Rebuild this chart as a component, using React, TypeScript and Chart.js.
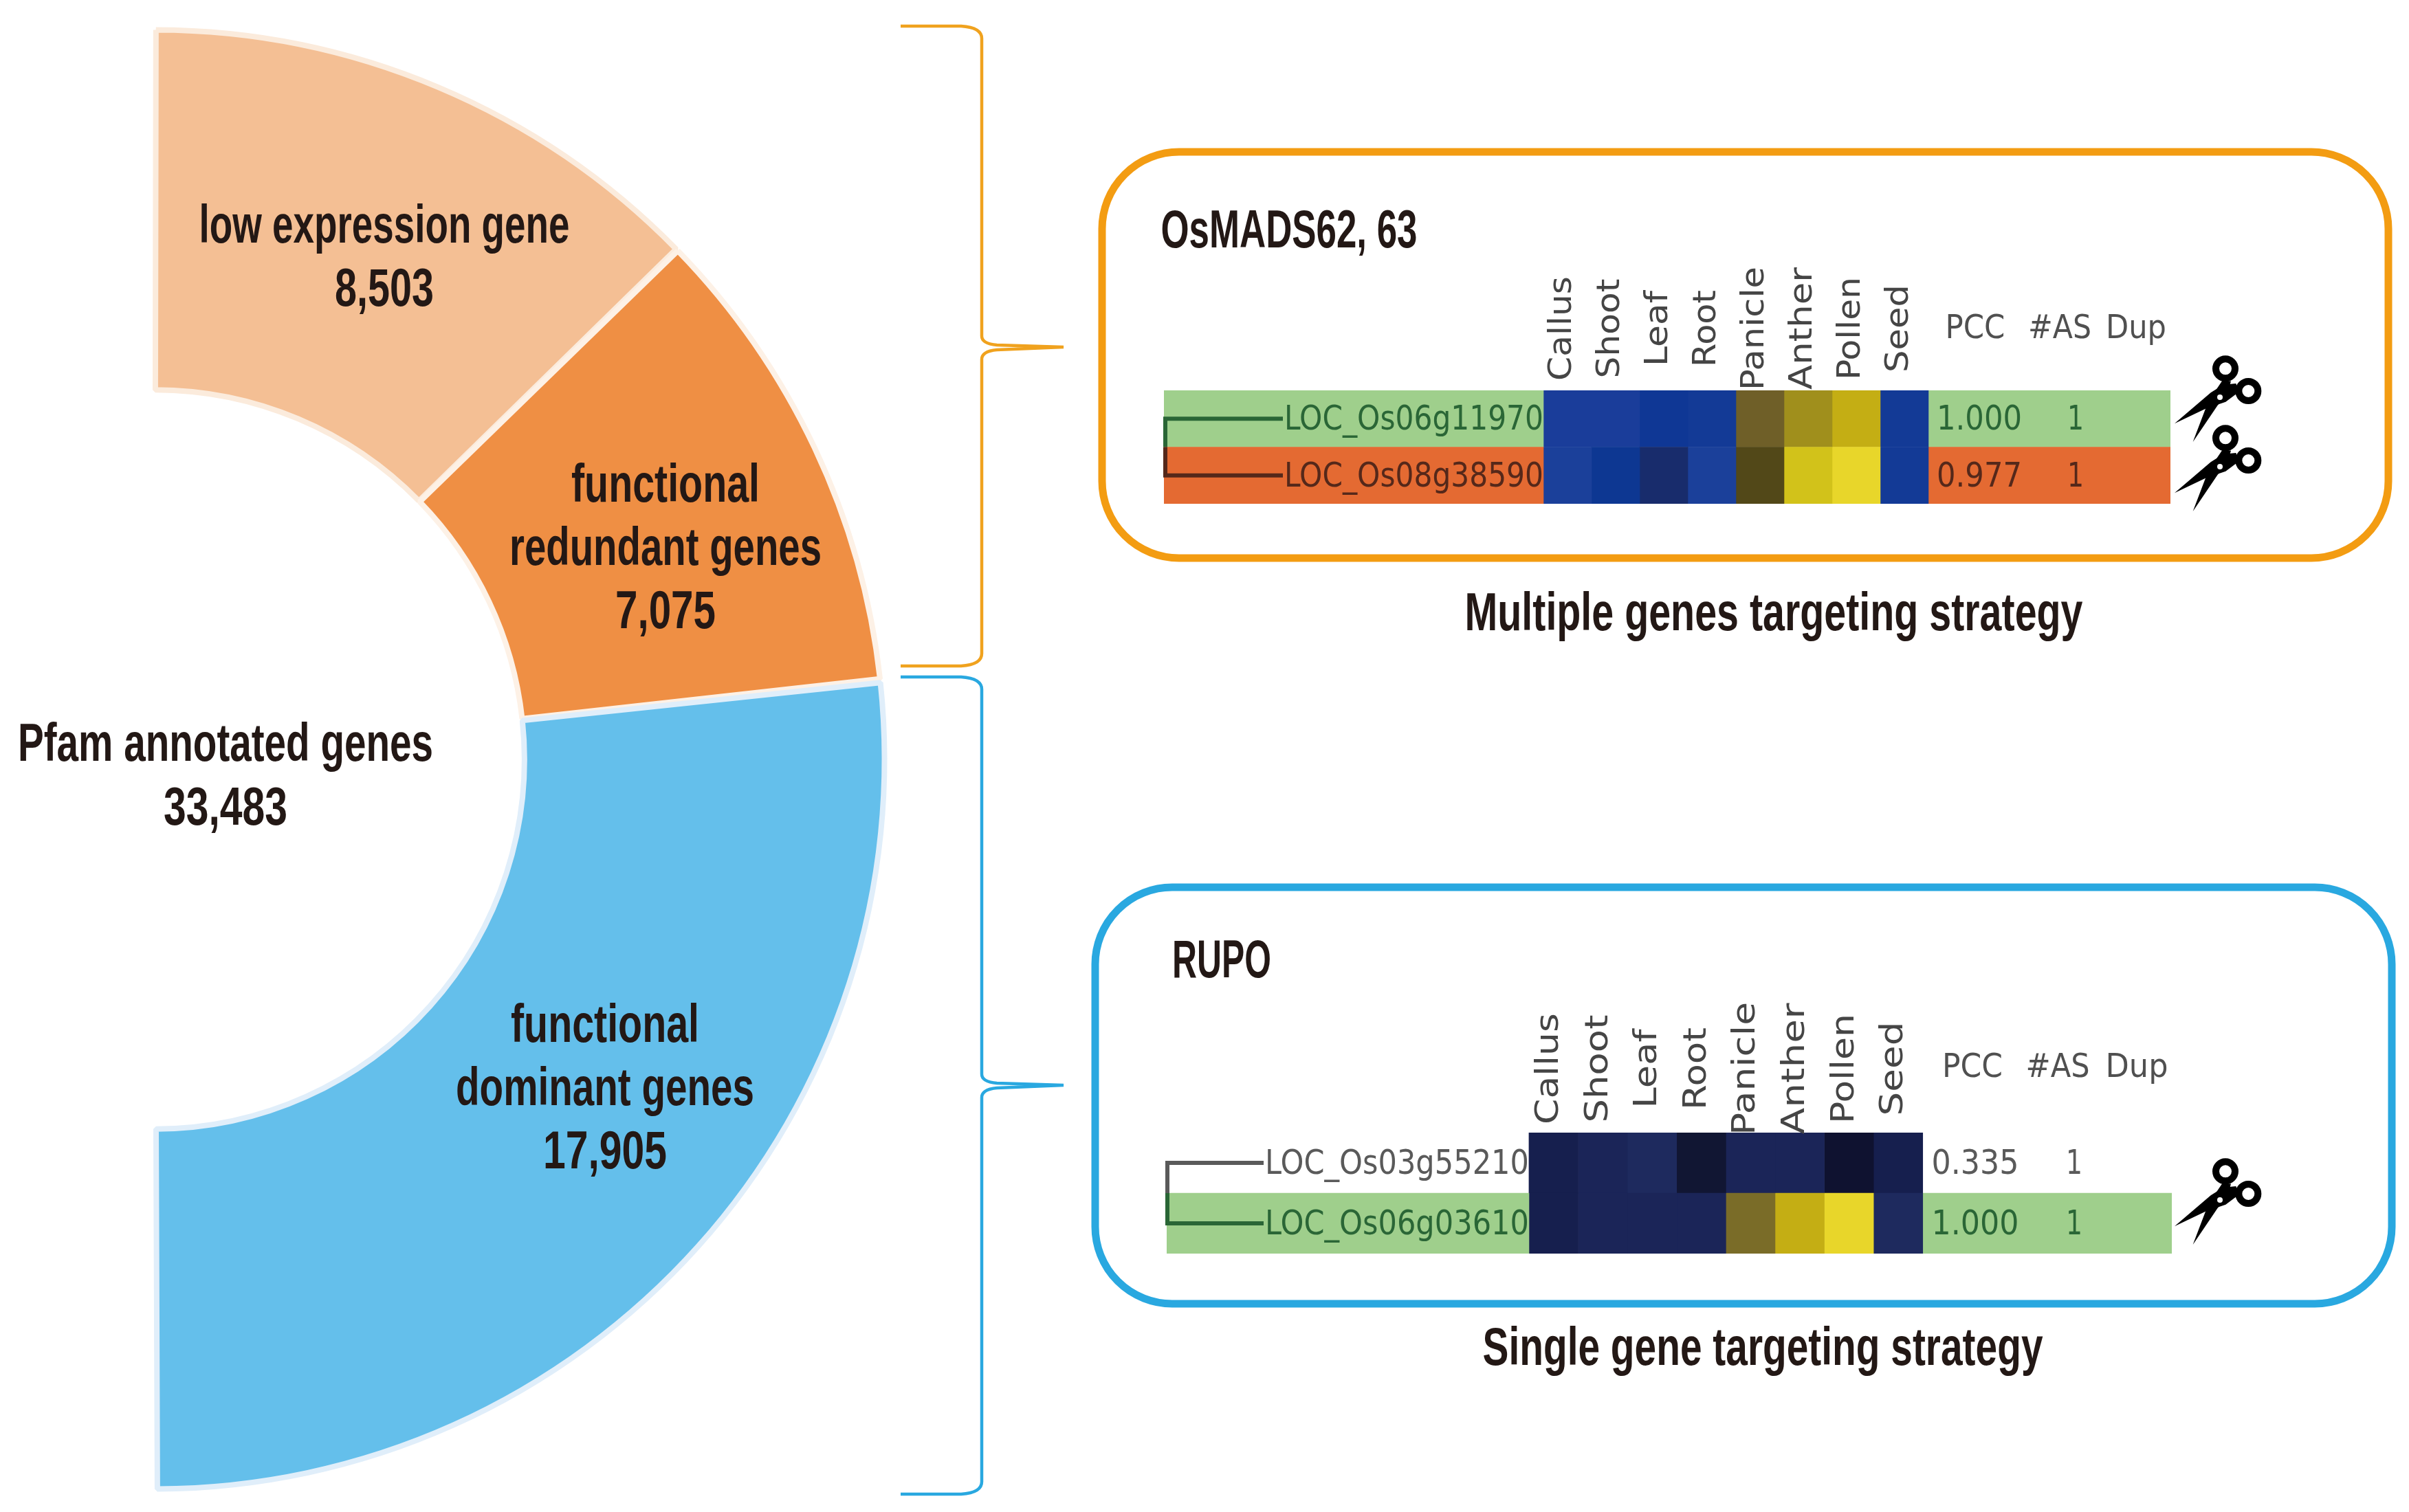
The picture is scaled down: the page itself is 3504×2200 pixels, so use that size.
import React, { useEffect, useRef } from "react";
import { Chart, registerables } from "chart.js";

Chart.register(...registerables);

// ---------- data ----------
const sliceNames = ["low expression gene", "functional redundant genes", "functional dominant genes"];
const sliceValues = [8503, 7075, 17905];
const tissues = ["Callus", "Shoot", "Leaf", "Root", "Panicle", "Anther", "Pollen", "Seed"];
const statHeaders = ["PCC", "#AS", "Dup"];

const multiGenes = ["LOC_Os06g11970", "LOC_Os08g38590"];
const multiExpr = [
  [-0.95, -0.95, -0.8, -0.85, 0.4, 0.65, 0.8, -0.85],
  [-1, -0.75, -0.55, -1, 0.3, 0.85, 1, -0.85],
];
const multiPcc = ["1.000", "0.977"];
const multiAs = ["1", "1"];

const singleGenes = ["LOC_Os03g55210", "LOC_Os06g03610"];
const singleExpr = [
  [-0.15, -0.25, -0.35, -0.05, -0.2, -0.22, 0, -0.1],
  [-0.15, -0.25, -0.23, -0.27, 0.48, 0.8, 1, -0.3],
];
const singlePcc = ["0.335", "1.000"];
const singleAs = ["1", "1"];

// ---------- styling ----------
const colorRamp: [number, string][] = [
  [-1, "#1b409a"], [-0.95, "#1a3d9a"], [-0.85, "#133a96"], [-0.8, "#0f3795"], [-0.75, "#0d3792"],
  [-0.55, "#182c6c"], [-0.35, "#1e2a5e"], [-0.25, "#1b2558"], [-0.15, "#161f4e"], [-0.05, "#111633"],
  [0, "#0f1230"], [0.3, "#524818"], [0.4, "#6f5f28"], [0.48, "#7a6c28"], [0.65, "#a08f1c"],
  [0.8, "#c4ae14"], [0.85, "#d2c21a"], [1, "#e8d62a"],
];
function rampColor(v: number) {
  let best = colorRamp[0];
  for (const s of colorRamp) if (Math.abs(s[0] - v) < Math.abs(best[0] - v)) best = s;
  return best[1];
}
const DARK = "#231815";
const TITLE_FONT = "bold 78px 'Liberation Sans Narrow', 'Liberation Sans'";
const GENE_FONT = "50px 'DejaVu Sans'";
const GREEN = "#9fcf8c";
const ORANGE = "#e46a32";
const GREEN_TEXT = "#2a6636";
const ORANGE_TEXT = "#55281a";
const GREY_TEXT = "#5a5a5a";
const W = 3504;
const H = 2200;

function fitText(ctx: any, text: string, cx: number, cy: number, w: number, font: string, color: string) {
  ctx.save();
  ctx.font = font;
  ctx.fillStyle = color;
  ctx.textAlign = "center";
  ctx.textBaseline = "middle";
  const m = ctx.measureText(text).width;
  ctx.translate(cx, cy);
  ctx.scale(w / m, 1);
  ctx.fillText(text, 0, 0);
  ctx.restore();
}

function poly(ctx: any, pts: number[][]) {
  ctx.beginPath();
  pts.forEach((p, i) => (i ? ctx.lineTo(p[0], p[1]) : ctx.moveTo(p[0], p[1])));
  ctx.closePath();
  ctx.fill();
}

function drawScissors(ctx: any, px: number, py: number) {
  ctx.save();
  ctx.translate(px, py);
  ctx.scale(1 / 3, 1 / 3);
  ctx.fillStyle = "#000";
  ctx.strokeStyle = "#000";
  ctx.lineWidth = 30;
  for (const c of [[24, -125], [124, -27]]) {
    ctx.beginPath();
    ctx.arc(c[0], c[1], 42, 0, Math.PI * 2);
    ctx.stroke();
  }
  poly(ctx, [[-198, 115], [-40, -20], [15, -55], [70, -60], [85, -25], [25, 20], [-63, 50]]);
  poly(ctx, [[-118, 195], [-63, 50], [-35, -5], [12, -75], [48, -70], [30, -10], [-10, 35]]);
  ctx.fillStyle = "#fff";
  ctx.beginPath();
  ctx.arc(0, 0, 12, 0, Math.PI * 2);
  ctx.fill();
  ctx.restore();
}

function drawBracket(ctx: any, color: string, top: number, mid: number, bottom: number) {
  ctx.save();
  ctx.strokeStyle = color;
  ctx.lineWidth = 4.5;
  ctx.beginPath();
  ctx.moveTo(1310, top);
  ctx.lineTo(1398, top);
  ctx.quadraticCurveTo(1428, top + 2, 1428, top + 18);
  ctx.lineTo(1428, mid - 16);
  ctx.quadraticCurveTo(1428, mid - 5, 1450, mid - 3);
  ctx.lineTo(1547, mid);
  ctx.lineTo(1450, mid + 4);
  ctx.quadraticCurveTo(1428, mid + 6, 1428, mid + 18);
  ctx.lineTo(1428, bottom - 18);
  ctx.quadraticCurveTo(1428, bottom - 2, 1398, bottom);
  ctx.lineTo(1310, bottom);
  ctx.stroke();
  ctx.restore();
}

type Panel = {
  title: string; titleX: number; titleY: number; titleW: number;
  caption: string; captionX: number; captionY: number; captionW: number;
  box: number[]; boxColor: string;
  area: number[]; labelZone: number; statZone: number;
  genes: string[]; expr: number[][]; pcc: string[]; asCount: string[];
  rowFill: string[]; rowText: string[]; treeX: number; treeEnd: number; geneW: number;
  tissueY: number; tissueShift: number; tissueLen: number[]; headerY: number; headerX: number[]; headerW: number[];
  pccX: number; pccW: number; asX: number; scissors: number[][];
};

const multiPanel: Panel = {
  title: "OsMADS62, 63", titleX: 1875, titleY: 338, titleW: 373,
  caption: "Multiple genes targeting strategy", captionX: 2580, captionY: 895, captionW: 899,
  box: [1603, 221, 1871, 591], boxColor: "#f39c12",
  area: [1693, 568, 3157, 733], labelZone: 7.886, statZone: 5.03,
  genes: multiGenes, expr: multiExpr, pcc: multiPcc, asCount: multiAs,
  rowFill: [GREEN, ORANGE], rowText: [GREEN_TEXT, ORANGE_TEXT], treeX: 1695, treeEnd: 1866, geneW: 377,
  tissueY: 478, tissueShift: -7, tissueLen: [152, 145, 110, 112, 180, 178, 150, 128],
  headerY: 480, headerX: [2873, 2996, 3107], headerW: [87, 92, 88],
  pccX: 2879, pccW: 124, asX: 3019, scissors: [[3229, 578], [3229, 679]],
};

const singlePanel: Panel = {
  title: "RUPO", titleX: 1777, titleY: 1400, titleW: 144,
  caption: "Single gene targeting strategy", captionX: 2564, captionY: 1964, captionW: 815,
  box: [1593, 1291, 1886, 606], boxColor: "#29a8e0",
  area: [1697, 1648, 3159, 1824], labelZone: 7.36, statZone: 5.06,
  genes: singleGenes, expr: singleExpr, pcc: singlePcc, asCount: singleAs,
  rowFill: ["rgba(0,0,0,0)", GREEN], rowText: [GREY_TEXT, GREEN_TEXT], treeX: 1698, treeEnd: 1838, geneW: 384,
  tissueY: 1555, tissueShift: -6, tissueLen: [162, 157, 115, 120, 194, 191, 160, 137],
  headerY: 1555, headerX: [2869, 2993, 3108], headerW: [88, 93, 91],
  pccX: 2873, pccW: 127, asX: 3017, scissors: [[3229, 1746]],
};

function drawPanelFurniture(chart: any, p: Panel) {
  const ctx = chart.ctx;
  const x = chart.scales.x;
  const y = chart.scales.y;
  ctx.save();
  // frame
  ctx.strokeStyle = p.boxColor;
  ctx.lineWidth = 11;
  ctx.beginPath();
  ctx.roundRect(p.box[0], p.box[1], p.box[2], p.box[3], 112);
  ctx.stroke();
  // titles
  fitText(ctx, p.title, p.titleX, p.titleY, p.titleW, TITLE_FONT, DARK);
  fitText(ctx, p.caption, p.captionX, p.captionY, p.captionW, TITLE_FONT, DARK);
  // tissue labels
  tissues.forEach((t, i) => {
    ctx.save();
    ctx.translate(x.getPixelForValue(p.labelZone + i + 0.5) + p.tissueShift, p.tissueY);
    ctx.rotate(-Math.PI / 2);
    fitText(ctx, t, 0, 0, p.tissueLen[i], "47px 'DejaVu Sans'", "#454545");
    ctx.restore();
  });
  statHeaders.forEach((h, i) => {
    fitText(ctx, h, p.headerX[i], p.headerY, p.headerW[i], "48px 'DejaVu Sans'", "#505050");
  });
  // rows: tree, gene name, stats
  const rowY = p.genes.map((_, r) => y.getPixelForValue(r));
  ctx.lineWidth = 6;
  ctx.strokeStyle = p.rowText[0];
  ctx.beginPath();
  ctx.moveTo(p.treeEnd, rowY[0]);
  ctx.lineTo(p.treeX, rowY[0]);
  ctx.lineTo(p.treeX, (rowY[0] + rowY[1]) / 2);
  ctx.stroke();
  ctx.strokeStyle = p.rowText[1];
  ctx.beginPath();
  ctx.moveTo(p.treeX, (rowY[0] + rowY[1]) / 2);
  ctx.lineTo(p.treeX, rowY[1]);
  ctx.lineTo(p.treeEnd, rowY[1]);
  ctx.stroke();
  p.genes.forEach((g, r) => {
    const right = x.getPixelForValue(p.labelZone);
    fitText(ctx, g, right - p.geneW / 2, rowY[r] + 3, p.geneW, GENE_FONT, p.rowText[r]);
    fitText(ctx, p.pcc[r], p.pccX, rowY[r] + 3, p.pccW, GENE_FONT, p.rowText[r]);
    fitText(ctx, p.asCount[r], p.asX, rowY[r] + 3, 24, GENE_FONT, p.rowText[r]);
  });
  p.scissors.forEach((s) => drawScissors(ctx, s[0], s[1]));
  ctx.restore();
}

function panelConfig(p: Panel): any {
  const zoneFill = p.rowFill;
  const datasets: any[] = [];
  datasets.push({ label: "gene", data: p.genes.map(() => p.labelZone), backgroundColor: zoneFill });
  tissues.forEach((t, i) => {
    datasets.push({ label: t, data: p.genes.map(() => 1), backgroundColor: p.expr.map((row) => rampColor(row[i])) });
  });
  datasets.push({ label: "stats", data: p.genes.map(() => p.statZone), backgroundColor: zoneFill });
  return {
    type: "bar",
    data: { labels: p.genes, datasets },
    options: {
      indexAxis: "y",
      responsive: false,
      animation: false,
      devicePixelRatio: 1,
      layout: { padding: { left: p.area[0], top: p.area[1], right: W - p.area[2], bottom: H - p.area[3] } },
      datasets: { bar: { barPercentage: 1, categoryPercentage: 1, borderWidth: 0 } },
      scales: {
        x: { display: false, stacked: true, min: 0, max: p.labelZone + tissues.length + p.statZone },
        y: { display: false, stacked: true },
      },
      plugins: { legend: { display: false }, tooltip: { enabled: false } },
    },
    plugins: [{ id: "furniture", afterDatasetsDraw: (chart: any) => drawPanelFurniture(chart, p) }],
  };
}

function donutConfig(): any {
  return {
    type: "doughnut",
    data: {
      labels: sliceNames,
      datasets: [{
        data: sliceValues,
        backgroundColor: ["#f4bf94", "#ef8f44", "#64bfeb"],
        borderColor: ["#fbebdc", "#fdf1e6", "#e0eefa"],
        borderWidth: 8,
      }],
    },
    options: {
      responsive: false,
      animation: false,
      devicePixelRatio: 1,
      rotation: 0,
      circumference: 180,
      cutout: "50.5%",
      radius: 1058,
      spacing: 7,
      layout: { padding: { left: 225, right: W - 1283, top: 30, bottom: H - 2180 } },
      plugins: { legend: { display: false }, tooltip: { enabled: false } },
    },
    plugins: [{
      id: "donutText",
      afterDatasetsDraw: (chart: any) => {
        const c = chart.ctx;
        const t = (s: string, x: number, y: number, w: number) => fitText(c, s, x, y + 3, w, TITLE_FONT, DARK);
        const fmt = (n: number) => n.toLocaleString("en-US");
        t("low expression gene", 559, 328, 539);
        t(fmt(sliceValues[0]), 559, 420, 144);
        t("functional", 968, 705, 274);
        t("redundant genes", 968, 797, 454);
        t(fmt(sliceValues[1]), 968, 889, 146);
        t("functional", 880, 1491, 274);
        t("dominant genes", 880, 1583, 434);
        t(fmt(sliceValues[2]), 880, 1675, 180);
        t("Pfam annotated genes", 328, 1082, 604);
        t(fmt(sliceValues.reduce((a, b) => a + b, 0)), 328, 1175, 180);
        drawBracket(c, "#f0a21e", 38, 505, 969);
        drawBracket(c, "#29a8e0", 985, 1579, 2174);
      },
    }],
  };
}

const canvasStyle: React.CSSProperties = { position: "absolute", left: 0, top: 0 };

export default function App() {
  const a = useRef<HTMLCanvasElement>(null);
  const b = useRef<HTMLCanvasElement>(null);
  const c = useRef<HTMLCanvasElement>(null);
  useEffect(() => {
    const charts = [
      new Chart(a.current as any, donutConfig()),
      new Chart(b.current as any, panelConfig(multiPanel)),
      new Chart(c.current as any, panelConfig(singlePanel)),
    ];
    return () => charts.forEach((x) => x.destroy());
  }, []);
  return (
    <div style={{ position: "absolute", left: 0, top: 0, width: W, height: H, background: "#fff", overflow: "hidden" }}>
      <canvas ref={a} width={W} height={H} style={canvasStyle} />
      <canvas ref={b} width={W} height={H} style={canvasStyle} />
      <canvas ref={c} width={W} height={H} style={canvasStyle} />
    </div>
  );
}
